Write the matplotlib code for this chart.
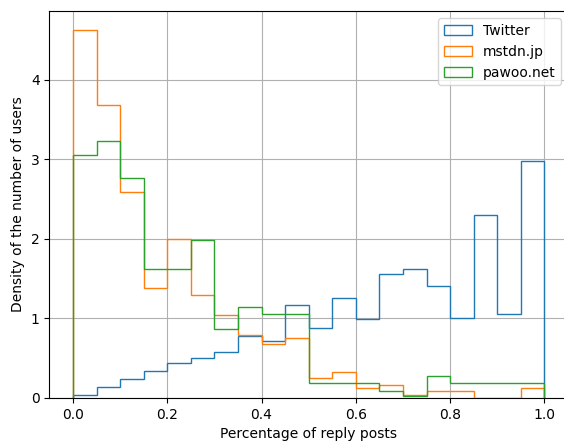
import matplotlib.pyplot as plt
import numpy as np

bin_edges = np.linspace(0, 1, 21)
labels = ["Twitter", "mstdn.jp", "pawoo.net"]

# density per bin (bin width 0.05)
twitter = [0.03, 0.14, 0.24, 0.34, 0.44, 0.50, 0.58, 0.78, 0.72, 1.17,
           0.88, 1.25, 0.99, 1.56, 1.62, 1.40, 1.00, 2.30, 1.05, 2.98]
mstdn = [4.63, 3.68, 2.59, 1.38, 2.00, 1.29, 1.04, 0.79, 0.68, 0.75,
         0.25, 0.33, 0.12, 0.16, 0.04, 0.08, 0.08, 0.0, 0.0, 0.12]
pawoo = [3.05, 3.23, 2.76, 1.62, 1.62, 1.99, 0.86, 1.14, 1.05, 1.05,
         0.19, 0.19, 0.19, 0.09, 0.02, 0.28, 0.19, 0.19, 0.19, 0.19]

centers = (bin_edges[:-1] + bin_edges[1:]) / 2

fig, ax = plt.subplots(figsize=(5.64, 4.47), dpi=100)
for vals, lab in zip([twitter, mstdn, pawoo], labels):
    ax.hist(centers, bins=bin_edges, weights=vals, histtype="step", label=lab)

ax.set_xlabel("Percentage of reply posts")
ax.set_ylabel("Density of the number of users")
ax.grid(True)
ax.legend(loc="upper right")
# reference is cropped on the right, so the axes run slightly past the edge
fig.subplots_adjust(left=0.0876, right=1.007, top=0.975, bottom=0.11)
fig.savefig("out.png")
